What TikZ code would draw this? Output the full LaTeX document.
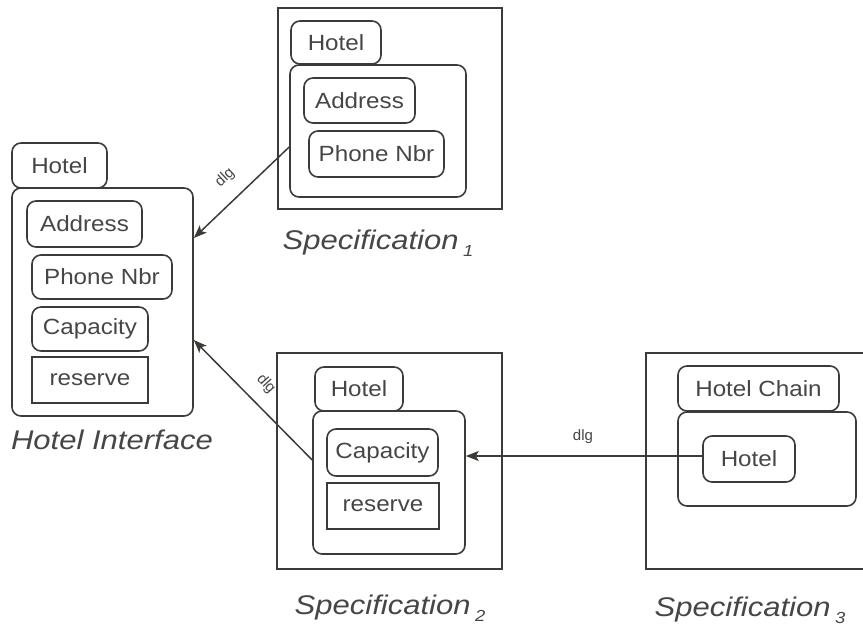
\documentclass[tikz,border=0pt]{standalone}
\usepackage{fontspec}
\setmainfont{Liberation Sans}
\newfontfamily\widefont[FakeStretch=1.1]{Liberation Sans}
\newfontfamily\capfont[FakeStretch=1.15]{Liberation Sans}
\usetikzlibrary{arrows.meta}
\definecolor{ink}{RGB}{58,60,56}
\definecolor{txt}{RGB}{70,70,70}
\tikzset{
  rbox/.style={draw=ink, line width=1.6pt, rounded corners=9pt, inner sep=0pt, text=txt,
     font=\widefont\fontsize{22}{26}\selectfont},
  sbox/.style={draw=ink, line width=1.6pt, inner sep=0pt, text=txt,
     font=\widefont\fontsize{22}{26}\selectfont},
  outer/.style={draw=ink, line width=2.8pt, inner sep=0pt},
  captext/.style={text=txt, font=\capfont\fontsize{27}{30}\selectfont\itshape},
  dlgl/.style={text=txt, font=\fontsize{15}{16}\selectfont, inner sep=0pt},
  arr/.style={draw=ink, line width=1.5pt, -{Stealth[length=13pt,width=10pt,inset=3pt]}}
}
\newcommand{\subn}[1]{\,{\fontsize{16}{16}\selectfont\raisebox{-7pt}{#1}}}
\begin{document}
\begin{tikzpicture}[x=1pt,y=-1pt]
\useasboundingbox (0,0) rectangle (863,632);
% Hotel Interface
\node[rbox, minimum width=95pt, minimum height=45pt] (hiTab) at (59.5,165.5) {Hotel};
\node[rbox, minimum width=181pt, minimum height=228pt] (hiBox) at (102.5,302) {};
\node[rbox, minimum width=115pt, minimum height=46pt] (hiAddr) at (84.5,224) {Address};
\node[rbox, minimum width=140pt, minimum height=44pt] (hiPhone) at (102,277) {Phone Nbr};
\node[rbox, minimum width=116pt, minimum height=44pt] (hiCap) at (90,329) {Capacity};
\node[sbox, minimum width=116pt, minimum height=46pt] (hiRes) at (90,380) {reserve};
\node[captext] (hiLab) at (112,440) {Hotel Interface};
% Specification 1
\node[outer, minimum width=224pt, minimum height=201pt] (s1Out) at (390,108.5) {};
\node[rbox, minimum width=90pt, minimum height=43pt] (s1Tab) at (336,42.5) {Hotel};
\node[rbox, minimum width=176pt, minimum height=132pt] (s1Box) at (378,131) {};
\node[rbox, minimum width=111pt, minimum height=45pt] (s1Addr) at (359.5,100.5) {Address};
\node[rbox, minimum width=135pt, minimum height=46pt] (s1Phone) at (376.5,154) {Phone Nbr};
\node[captext] (s1Lab) at (378,243) {Specification\subn{1}};
% Specification 2
\node[outer, minimum width=225pt, minimum height=216pt] (s2Out) at (389.5,461) {};
\node[rbox, minimum width=88pt, minimum height=44pt] (s2Tab) at (359,389) {Hotel};
\node[rbox, minimum width=152pt, minimum height=143pt] (s2Box) at (389,482.5) {};
\node[rbox, minimum width=111pt, minimum height=47pt] (s2Cap) at (382.5,452.5) {Capacity};
\node[sbox, minimum width=112pt, minimum height=46pt] (s2Res) at (383,506) {reserve};
\node[captext] (s2Lab) at (390,608) {Specification\subn{2}};
% Specification 3
\coordinate (s3a) at (870,353);
\coordinate (s3b) at (646,353);
\coordinate (s3c) at (646,569);
\coordinate (s3d) at (870,569);
\draw[draw=ink, line width=2.8pt] (s3a) -- (s3b) -- (s3c) -- (s3d);
\node[rbox, minimum width=161pt, minimum height=45pt] (s3Tab) at (758.5,388.5) {Hotel Chain};
\node[rbox, minimum width=178pt, minimum height=94pt] (s3Box) at (767,459) {};
\node[rbox, minimum width=92pt, minimum height=46pt] (s3Hotel) at (749,459) {Hotel};
\node[captext] (s3Lab) at (750,610) {Specification\subn{3}};
% connectors
\draw[arr] ([yshift=-16pt]s1Box.west) -- ([yshift=64pt]hiBox.east);
\draw[arr] ([yshift=22.5pt]s2Box.west) -- ([yshift=-38pt]hiBox.east);
\draw[arr] ([yshift=3pt]s3Hotel.west) -- ([yshift=3pt]s3Hotel.west -| s2Box.east);
\node[dlgl, rotate=43] (d1) at (225,178) {dlg};
\node[dlgl, rotate=-48] (d2) at (266,384) {dlg};
\node[dlgl] (d3) at (583,437) {dlg};
\end{tikzpicture}
\end{document}
